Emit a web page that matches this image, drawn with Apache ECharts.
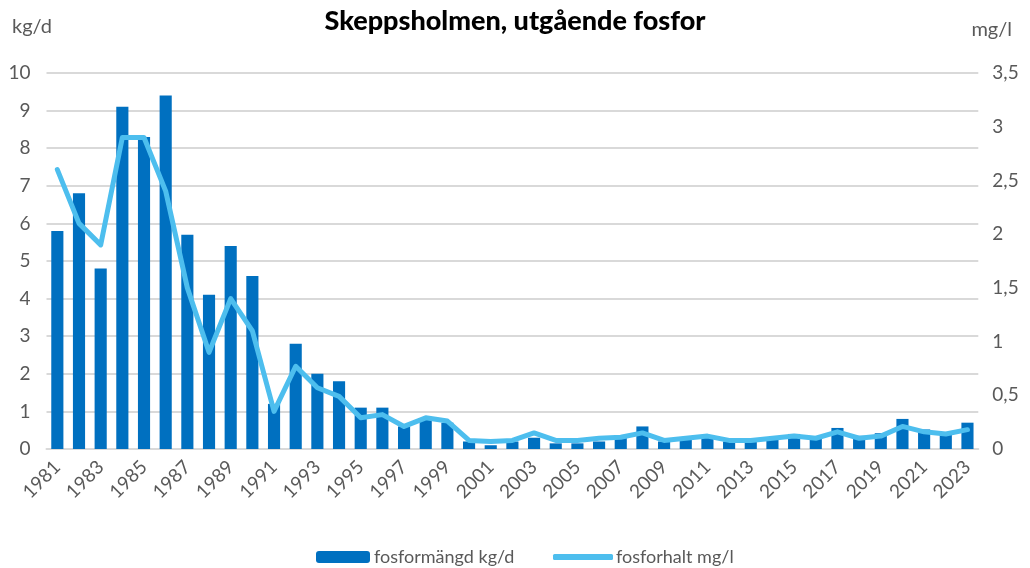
<!DOCTYPE html>
<html>
<head>
<meta charset="utf-8">
<script src="https://cdn.jsdelivr.net/npm/echarts@6/dist/echarts.min.js"></script>
<style>
html,body{margin:0;padding:0;background:#fff;}
#chart{width:1030px;height:568px;}
</style>
</head>
<body>
<div id="chart"></div>
<script>
var years = ['1981','1982','1983','1984','1985','1986','1987','1988','1989','1990','1991','1992','1993','1994','1995','1996','1997','1998','1999','2000','2001','2002','2003','2004','2005','2006','2007','2008','2009','2010','2011','2012','2013','2014','2015','2016','2017','2018','2019','2020','2021','2022','2023'];
var fosformangd = [5.8,6.8,4.8,9.1,8.3,9.4,5.7,4.1,5.4,4.6,1.2,2.8,2.0,1.8,1.1,1.1,0.6,0.8,0.7,0.2,0.1,0.2,0.3,0.15,0.15,0.2,0.35,0.6,0.2,0.25,0.35,0.2,0.2,0.25,0.4,0.3,0.56,0.35,0.42,0.8,0.52,0.45,0.7];
var fosforhalt = [2.6,2.1,1.9,2.9,2.9,2.4,1.5,0.9,1.4,1.1,0.35,0.77,0.57,0.49,0.29,0.32,0.21,0.29,0.26,0.08,0.07,0.08,0.15,0.08,0.08,0.1,0.11,0.15,0.08,0.1,0.12,0.08,0.08,0.1,0.12,0.1,0.16,0.1,0.12,0.21,0.16,0.14,0.18];
var titleText = 'Skeppsholmen, utgående fosfor';
var leftUnit = 'kg/d';
var rightUnit = 'mg/l';
var barName = 'fosformängd kg/d';
var lineName = 'fosforhalt mg/l';

var FONT = 'Lato';
var GREY = '#595959';
var chart = echarts.init(document.getElementById('chart'), null, {renderer:'canvas'});
chart.setOption({
  animation: false,
  backgroundColor: '#fff',
  textStyle: {fontFamily: FONT},
  title: {
    text: titleText, left: 'center', top: 3,
    textStyle: {fontFamily: FONT, fontWeight: 900, fontSize: 27, color: '#000'}
  },
  graphic: [
    {type:'text', left: 12, top: 17, style:{text: leftUnit, font: '20px ' + FONT, fill: GREY}},
    {type:'text', right: 18, top: 20, style:{text: rightUnit, font: '20px ' + FONT, fill: GREY}}
  ],
  legend: [
    {data:[barName], left: 311, top: 543, itemWidth: 54, itemHeight: 12, itemGap: 6,
     textStyle:{fontFamily: FONT, fontSize: 18, color: GREY, padding:[0,0,0,-1]}},
    {data:[{name: lineName, icon: 'roundRect'}], left: 548, top: 543, itemWidth: 60, itemHeight: 6,
     textStyle:{fontFamily: FONT, fontSize: 18, color: GREY, padding:[0,0,0,-2]}}
  ],
  grid: {left: 46.5, right: 51.7, top: 73, bottom: 119, containLabel: false},
  xAxis: {
    type: 'category', data: years,
    axisTick: {show: false},
    axisLine: {lineStyle: {color: '#d9d9d9', width: 2}},
    axisLabel: {interval: 1, rotate: 45, fontFamily: FONT, fontSize: 19, color: GREY, margin: 15}
  },
  yAxis: [
    {type:'value', min:0, max:10, interval:1,
     axisLine:{show:false}, axisTick:{show:false},
     splitLine:{lineStyle:{color:'#d9d9d9', width:2}},
     axisLabel:{fontFamily: FONT, fontSize: 19, color: GREY, margin: 16}},
    {type:'value', min:0, max:3.5, interval:0.5,
     axisLine:{show:false}, axisTick:{show:false}, splitLine:{show:false},
     axisLabel:{fontFamily: FONT, fontSize: 19, color: GREY, margin: 14,
       formatter: function(v){ return String(v).replace('.', ','); }}}
  ],
  series: [
    {name: barName, type:'bar', data: fosformangd, yAxisIndex: 0,
     barWidth: '56%', itemStyle:{color:'#0070C0'}},
    {name: lineName, type:'line', data: fosforhalt, yAxisIndex: 1,
     symbol:'none', lineStyle:{color:'#4DBEEE', width:5, cap:'round', join:'round'},
     itemStyle:{color:'#4DBEEE'}}
  ]
});
</script>
</body>
</html>
